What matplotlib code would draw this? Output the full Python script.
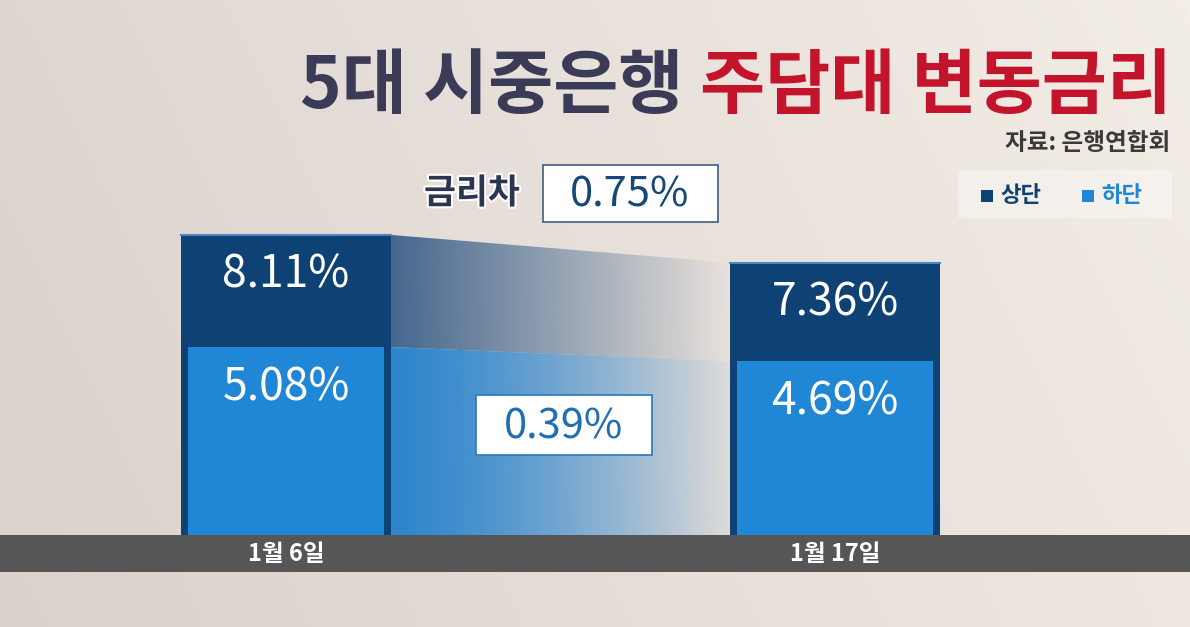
import numpy as np
import matplotlib
matplotlib.use("Agg")
import matplotlib.pyplot as plt
import matplotlib.patheffects as pe
from matplotlib.patches import Polygon, Rectangle

plt.rcParams['font.family'] = ['Noto Sans CJK KR', 'DejaVu Sans']

# ---- data ----
dates = ["1월 6일", "1월 17일"]
upper_rates = [8.11, 7.36]   # 상단
lower_rates = [5.08, 4.69]   # 하단
series_names = ["상단", "하단"]
title_left = "5대 시중은행 "
title_right = "주담대 변동금리"
source = "자료: 은행연합회"
gap_label = "금리차"

W, H = 1190, 627
NAVY = "#0e4275"
BLUE = "#1f87d6"
fig = plt.figure(figsize=(W / 100, H / 100), dpi=100)

def fx(px):
    return px / W

def fy(py):
    return 1 - py / H

# background gradient
bg = fig.add_axes([0, 0, 1, 1], zorder=-5)
bg.set_axis_off()
gx = np.linspace(0, 1, 300)
gy = np.linspace(0, 1, 200)
GX, GY = np.meshgrid(gx, gy)
c_left = np.array([0.86, 0.82, 0.80])
c_right = np.array([0.95, 0.93, 0.90])
t = np.clip(GX * 0.8 + GY * 0.2, 0, 1)[..., None]
img = c_left * (1 - t) + c_right * t
bg.imshow(img, extent=[0, 1, 0, 1], aspect='auto', origin='lower')
bg.set_xlim(0, 1)
bg.set_ylim(0, 1)

# bottom gray band
fig.patches.append(Rectangle((0, fy(572)), 1, (572 - 535) / H, transform=fig.transFigure,
                             facecolor="#565656", edgecolor="none", zorder=-1))

# main axes: baseline at pixel 535
base_px = 535
ax = fig.add_axes([0, fy(base_px), 1, base_px / H])
ax.set_axis_off()
pos = np.array([0, 1])
center0, spacing = 286, 549
xl = (0 - center0) / spacing
xr = (W - center0) / spacing
ymax = base_px / 37.0
bw = 210 / spacing
bw_in = 196 / spacing

# gradient connecting bands
def grad_band(xa, xb, ya_top, yb_top, ya_bot, yb_bot, color, a0, a1, gamma):
    poly = Polygon([(xa, ya_top), (xb, yb_top), (xb, yb_bot), (xa, ya_bot)],
                   closed=True, facecolor='none', edgecolor='none')
    ax.add_patch(poly)
    n = 256
    rgba = np.zeros((2, n, 4))
    rgba[..., :3] = matplotlib.colors.to_rgb(color)
    s = np.linspace(0, 1, n) ** gamma
    rgba[..., 3] = a0 + (a1 - a0) * s
    im = ax.imshow(rgba, extent=[xa, xb, min(ya_bot, yb_bot), max(ya_top, yb_top)],
                   aspect='auto', origin='lower', zorder=1, interpolation='bilinear')
    im.set_clip_path(poly)

xa = pos[0] + bw / 2
xb = pos[1] - bw / 2
grad_band(xa, xb, upper_rates[0], upper_rates[1], lower_rates[0], lower_rates[1], "#1d4a7c", 0.8, 0.0, 1.0)
grad_band(xa, xb, lower_rates[0], lower_rates[1], 0, 0, "#2380cc", 0.95, 0.05, 1.3)

# bars
ax.bar(pos, upper_rates, width=bw, color=NAVY, zorder=3, edgecolor='none')
ax.bar(pos, lower_rates, width=bw_in, color=BLUE, zorder=4, edgecolor='none')
for x, v in zip(pos, upper_rates):
    ax.plot([x - bw / 2, x + bw / 2], [v, v], color="#4f86c0", lw=1.5, zorder=5)

ax.set_xlim(xl, xr)
ax.set_ylim(0, ymax)

# value labels inside bars
for vals in (upper_rates, lower_rates):
    for x, v in zip(pos, vals):
        ax.annotate(f"{v:.2f}%", (x, v), xytext=(0, -40), textcoords='offset pixels',
                    ha='center', va='center', color='white', fontsize=32, fontweight='medium', zorder=6)

# date labels in the gray band
for x, d in zip(pos, dates):
    ax.annotate(d, (x, 0), xytext=(0, -19), textcoords='offset pixels', ha='center', va='center',
                color='white', fontsize=17, fontweight='bold', annotation_clip=False, zorder=6)

# difference boxes
diff_upper = upper_rates[0] - upper_rates[1]
diff_lower = lower_rates[0] - lower_rates[1]

fig.patches.append(Rectangle((fx(543), fy(222)), (718 - 543) / W, (222 - 165) / H,
                             transform=fig.transFigure, facecolor="white",
                             edgecolor="#3f5f80", lw=1.2, zorder=7))
fig.text(fx(630), fy(195), f"{diff_upper:.2f}%", ha='center', va='center',
         color="#174776", fontsize=30, fontweight='medium', zorder=8)
fig.text(fx(472), fy(193), gap_label, ha='center', va='center',
         color="#2b3550", fontsize=25, fontweight='bold', zorder=8,
         path_effects=[pe.withStroke(linewidth=3, foreground='white')])

fig.patches.append(Rectangle((fx(476), fy(455)), (652 - 476) / W, (455 - 395) / H,
                             transform=fig.transFigure, facecolor="white",
                             edgecolor="#2a78bd", lw=1.2, zorder=7))
fig.text(fx(564), fy(427), f"{diff_lower:.2f}%", ha='center', va='center',
         color="#1f6fb2", fontsize=30, fontweight='medium', zorder=8)

# title
t2 = fig.text(fx(1172), fy(87), title_right, ha='right', va='center',
              color="#c3142b", fontsize=51, fontweight='black')
fig.canvas.draw()
bb = t2.get_window_extent()
fig.text(bb.x0 / W, fy(87), title_left, ha='right', va='center',
         color="#3b3b58", fontsize=51, fontweight='black')
fig.text(fx(1170), fy(143), source, ha='right', va='center',
         color="#3a3a3a", fontsize=17, fontweight='bold')

# legend box
fig.patches.append(Rectangle((fx(958), fy(218)), (1172 - 958) / W, (218 - 170) / H,
                             transform=fig.transFigure, facecolor="white", alpha=0.35,
                             edgecolor="none", zorder=7))
fig.patches.append(Rectangle((fx(981), fy(202)), 12 / W, 12 / H, transform=fig.transFigure,
                             facecolor=NAVY, edgecolor='none', zorder=8))
fig.text(fx(1000), fy(196), series_names[0], ha='left', va='center', color=NAVY,
         fontsize=16, fontweight='bold', zorder=8)
fig.patches.append(Rectangle((fx(1082), fy(202)), 12 / W, 12 / H, transform=fig.transFigure,
                             facecolor=BLUE, edgecolor='none', zorder=8))
fig.text(fx(1101), fy(196), series_names[1], ha='left', va='center', color=BLUE,
         fontsize=16, fontweight='bold', zorder=8)

fig.savefig("out.png", dpi=100)
